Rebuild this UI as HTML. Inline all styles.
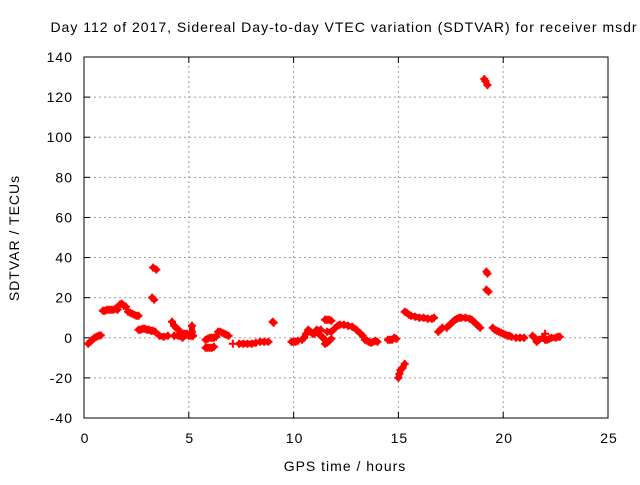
<!DOCTYPE html>
<html><head><meta charset="utf-8"><style>
body{margin:0;background:#fff;}
svg text{font-family:"Liberation Sans",sans-serif;font-size:14px;letter-spacing:1px;fill:#000;}
</style></head><body>
<svg id="chart" width="640" height="480" xmlns="http://www.w3.org/2000/svg">
<rect width="640" height="480" fill="#fff"/>
<g id="grid"></g><g id="axes"></g><g id="marks"></g>
<text x="344" y="32" text-anchor="middle">Day 112 of 2017, Sidereal Day-to-day VTEC variation (SDTVAR) for receiver msdr</text>
<text x="345" y="471" text-anchor="middle">GPS time / hours</text>
<text x="0" y="0" text-anchor="middle" transform="translate(19,238) rotate(-90)">SDTVAR / TECUs</text>
</svg>
<script>
const xTicks=[0,5,10,15,20,25];
const yTicks=[-40,-20,0,20,40,60,80,100,120,140];
const seg=[1,1,1,1,1,1,1, 2,2,2,2,2,2,2,2, 3,3,3,3, 4,4,4,4,4,4, 5,5,5,5,5,5,5,5,5, 6,6, 7,7, 8,8,8,
9,9,9,9,9,9,9,9,9,9,9, 10,10,10,10, 11,11,11, 12,12,12,12,12,12, 13,13,13,13,13, 14,14,14,14,14,14, 15, 16,16,16,16,16, 17,17,17, 18,18, 19,19,19,19, 20,20,20,20,20,20,
21,21,21,21,21,21, 22,22, 23,23,23,23, 24,24,24,24, 25,25,25,25, 26,26,26,26,26,26,26, 27,27,27,27,27,27,27, 28,28,28,28,28, 29,29,29,29,29,
30,30,30,30,30,30,30,30,30,30, 31,31,31, 32,32,32,32,32,32,32,32,32,32,32,32,32,32,32, 33,33,33, 34,34, 35,35,
36,36,36,36,36,36,36,36,36,36, 37,37,37, 38,38,38,38,38,38,38,38,38,38,38,38, 39];
const times=[0.2,0.3,0.4,0.5,0.6,0.7,0.8, 0.9,1.0,1.1,1.2,1.3,1.4,1.5,1.6, 1.7,1.8,1.9,2.0, 2.1,2.2,2.3,2.4,2.5,2.6, 2.6,2.7,2.8,2.9,3.0,3.1,3.2,3.3,3.4, 3.25,3.35, 3.3,3.45, 3.6,3.8,4.0,
4.2,4.3,4.4,4.5,4.6,4.7,4.8,4.9,5.0,5.1,5.2, 4.3,4.5,4.7,4.9, 5.15,5.15,5.2, 5.8,5.9,6.0,6.1,6.2,6.3, 5.8,5.9,6.0,6.1,6.2, 6.4,6.5,6.6,6.7,6.8,6.9, 7.1, 7.4,7.6,7.8,8.0,8.2, 8.4,8.6,8.8, 9.0,9.05, 9.9,10.0,10.1,10.2, 10.4,10.5,10.6,10.7,10.8,10.9,
11.0,11.1,11.2,11.3,11.4,11.5, 11.1,11.3, 11.5,11.6,11.7,11.8, 11.5,11.6,11.7,11.8, 11.6,11.8,12.0,12.1, 12.2,12.4,12.6,12.8,13.0,13.2,13.3, 13.4,13.5,13.6,13.7,13.8,13.9,14.0, 14.5,14.6,14.7,14.8,14.9, 15.0,15.05,15.1,15.2,15.3,
15.3,15.4,15.5,15.6,15.8,16.0,16.2,16.4,16.6,16.7, 16.9,17.0,17.1, 17.3,17.4,17.5,17.6,17.7,17.8,17.9,18.0,18.2,18.4,18.5,18.6,18.7,18.8,18.9, 19.1,19.15,19.25, 19.2,19.25, 19.2,19.3,
19.5,19.6,19.7,19.8,19.9,20.0,20.1,20.2,20.3,20.4, 20.6,20.8,21.0, 21.4,21.5,21.6,21.7,21.9,22.0,22.1,22.2,22.3,22.5,22.6,22.7, 22.0];
const values=[-3,-2,-1,0,0.5,1,1.2, 13.5,13.5,14,14,14,14,14.5,14, 16.5,17,16,15.5, 13,12.5,12,11.5,11,11, 4,4,4.5,4.5,4,4,3.5,3.5,3, 20,19, 35,34, 1,0.5,1,
8,6,5,4,3,2,2,1.5,1,1,1, 1,1,0,2, 6,3,1, -1,-0.5,0,0,0,0.5, -5,-5,-5,-5,-4.5, 3,3,2.5,2,1.5,1, -3, -3,-3,-3,-3,-2.5, -2,-2,-2, 8,7.5, -2,-2,-2,-1.5, -1,0,2,4,3,2,
2,3,2,1,0,-1, 4,4, -3,-2.5,-1.5,-0.5, 9,9,9,8.5, 3,3,5,6, 6.5,6.5,6,5.5,4,2,1, -1,-1.5,-2,-2.5,-2,-1.5,-2, -1,-1,-1,0,-0.5, -20,-18,-16,-15,-13,
13,12.5,11.5,11,10.5,10,10,9.5,9.5,10, 3,4,5, 5,6,7,8,9,9.5,10,10,10,9.5,9,8,7,6,5, 129,128,126, 33,32, 24,23,
5,4,3.5,3,2.5,2,1.5,1,1,0.5, 0,0,0, 1,0,-2,-1,0,-1,-1,-0.5,0,0,0.5,0.5, 2];
const X0=84,X1=608,Y0=418,Y1=57,XMIN=0,XMAX=25,YMIN=-40,YMAX=140;
const sx=t=>X0+(t-XMIN)/(XMAX-XMIN)*(X1-X0);
const sy=v=>Y0-(v-YMIN)/(YMAX-YMIN)*(Y0-Y1);
const NS="http://www.w3.org/2000/svg";
function mk(tag,attrs,parent){const e=document.createElementNS(NS,tag);for(const k in attrs)e.setAttribute(k,attrs[k]);parent.appendChild(e);return e;}
const grid=document.getElementById('grid'),axes=document.getElementById('axes'),marks=document.getElementById('marks');
xTicks.forEach(t=>{const x=sx(t);
 if(t>XMIN&&t<XMAX){const g=mk('line',{x1:x,x2:x,y1:Y0,y2:Y1,stroke:'#a0a0a0','stroke-dasharray':'2,3'},grid);
 
 }
 mk('line',{x1:x,x2:x,y1:Y0,y2:Y0-6,stroke:'#000'},axes);
 mk('line',{x1:x,x2:x,y1:Y1,y2:Y1+6,stroke:'#000'},axes);
 const l=mk('text',{x:x+1,y:443,'text-anchor':'middle'},axes);l.textContent=t;
 
 
});
yTicks.forEach(v=>{const y=sy(v);
 if(v>YMIN&&v<YMAX){const g=mk('line',{x1:X0,x2:X1,y1:y,y2:y,stroke:'#a0a0a0','stroke-dasharray':'2,3'},grid);
 
 }
 mk('line',{x1:X0,x2:X0+6,y1:y,y2:y,stroke:'#000'},axes);
 mk('line',{x1:X1,x2:X1-6,y1:y,y2:y,stroke:'#000'},axes);
 const l=mk('text',{x:73,y:y+5,'text-anchor':'end'},axes);l.textContent=v;
 
 
});
const frame=mk('rect',{x:X0,y:Y1,width:X1-X0,height:Y0-Y1,fill:'none',stroke:'#000'},axes);


for(let i=1;i<times.length;i++){
 if(seg[i]===seg[i-1]){
  const ln=mk('line',{x1:sx(times[i-1]),y1:sy(values[i-1]),x2:sx(times[i]),y2:sy(values[i]),stroke:'#f00','stroke-width':6,'stroke-linecap':'round'},marks);
  
  
 }
}
times.forEach((t,i)=>{const x=sx(t),y=sy(values[i]);
 const p=mk('path',{d:`M${x-4},${y}H${x+4}M${x},${y-4}V${y+4}`,stroke:'#f00','stroke-width':2,fill:'none'},marks);
 
 
});
</script>
</body></html>
